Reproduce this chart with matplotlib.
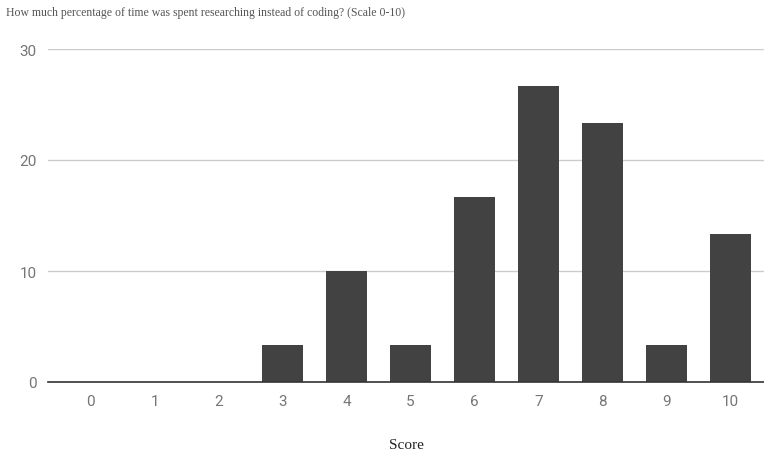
import matplotlib.pyplot as plt

# Survey responses: share of respondents per score
scores = ['0', '1', '2', '3', '4', '5', '6', '7', '8', '9', '10']
percent = [0, 0, 0, 3.33, 10, 3.33, 16.67, 26.67, 23.33, 3.33, 13.33]
y_ticks = [0, 10, 20, 30]

fig = plt.figure(figsize=(7.64, 4.56), dpi=100)
ax = fig.add_axes([48 / 764, 1 - 383 / 456, (764 - 48) / 764, (383 - 50) / 456])

x = list(range(len(scores)))
ax.bar(x, percent, width=0.64, color='#424242', zorder=3)

ax.set_xlim(-0.664, 10.52)
ax.set_ylim(0, 30)
ax.set_yticks(y_ticks)
ax.set_xticks(x)
ax.set_xticklabels(scores)
ax.grid(axis='y', color='#cccccc', linewidth=1, zorder=0)

for side in ['top', 'right', 'left']:
    ax.spines[side].set_visible(False)
ax.spines['bottom'].set_color('#333333')
ax.spines['bottom'].set_linewidth(1.2)
ax.spines['bottom'].set_zorder(4)

ax.tick_params(length=0, labelsize=11, labelcolor='#757575')
ax.tick_params(axis='y', pad=8)
ax.tick_params(axis='x', pad=9)
for lbl in ax.get_xticklabels() + ax.get_yticklabels():
    lbl.set_family('Roboto')

ax.set_xlabel('Score', family='Liberation Serif', fontsize=11, color='#222222', labelpad=21)
fig.text(6 / 764, 1 - 13 / 456, 'How much percentage of time was spent researching instead of coding? (Scale 0-10)',
         family='Liberation Serif', fontsize=8.5, color='#555555', va='center', ha='left')

plt.savefig('out.png', dpi=100)
